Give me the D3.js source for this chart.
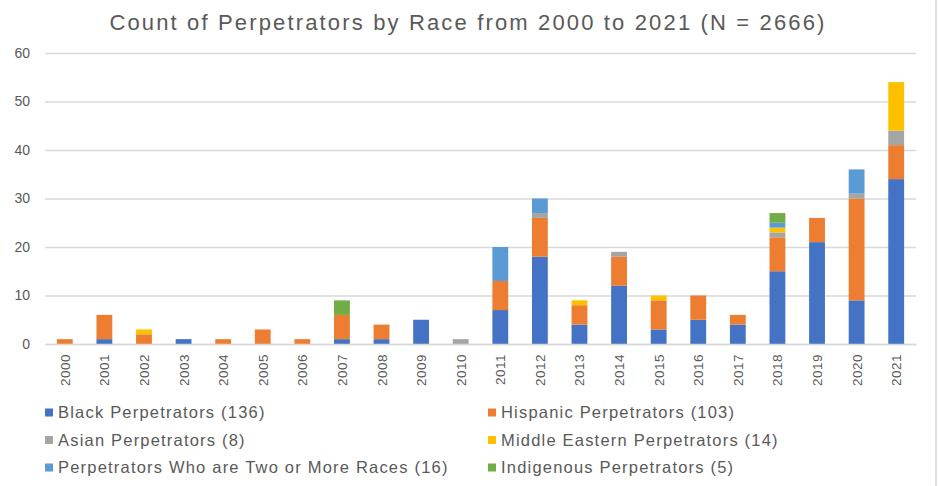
<!DOCTYPE html>
<html>
<head>
<meta charset="utf-8">
<script src="https://cdn.jsdelivr.net/npm/d3@7"></script>
<style>
  body { margin: 0; background: #fff; }
  text { font-family: "Liberation Sans", Arial, sans-serif; fill: #595959; }
</style>
</head>
<body>
<div class="chart"></div>
<script>
var years = ['2000','2001','2002','2003','2004','2005','2006','2007','2008','2009','2010',
             '2011','2012','2013','2014','2015','2016','2017','2018','2019','2020','2021']

// values, one per year
var black      = [0,1,0,1,0,0,0,1,1,5,0, 7,18,4,12,3,5,4,15,21,9,34]
var hispanic   = [1,5,2,0,1,3,1,5,3,0,0, 6,8,4,6,6,5,2,7,5,21,7]
var asian      = [0,0,0,0,0,0,0,0,0,0,1, 0,1,0,1,0,0,0,1,0,1,3]
var midEast    = [0,0,1,0,0,0,0,0,0,0,0, 0,0,1,0,1,0,0,1,0,0,10]
var twoOrMore  = [0,0,0,0,0,0,0,0,0,0,0, 7,3,0,0,0,0,0,1,0,5,0]
var indigenous = [0,0,0,0,0,0,0,3,0,0,0, 0,0,0,0,0,0,0,2,0,0,0]

var seriesNames = ['Black Perpetrators (136)', 'Hispanic Perpetrators (103)',
  'Asian Perpetrators (8)', 'Middle Eastern Perpetrators (14)',
  'Perpetrators Who are Two or More Races (16)', 'Indigenous Perpetrators (5)']
var colors = ['#4472C4', '#ED7D31', '#A5A5A5', '#FFC000', '#5B9BD5', '#70AD47']
var yTicks = [0, 10, 20, 30, 40, 50, 60]

var keys = ['black', 'hispanic', 'asian', 'midEast', 'twoOrMore', 'indigenous']
var table = years.map((y, i) => ({
  year: y, black: black[i], hispanic: hispanic[i], asian: asian[i],
  midEast: midEast[i], twoOrMore: twoOrMore[i], indigenous: indigenous[i]
}))

var W = 938, H = 486
var margin = { top: 53, right: 22, bottom: 142, left: 45 }
var width = W - margin.left - margin.right
var height = H - margin.top - margin.bottom

var svg = d3.select('.chart')
  .append('svg')
    .attr('width', W)
    .attr('height', H)

// frame edge on the right
svg.append('line')
  .attr('x1', 936).attr('x2', 936)
  .attr('y1', 0).attr('y2', H)
  .attr('stroke', '#d9d9d9')
  .attr('stroke-width', 1.5)

svg.append('text')
  .attr('x', 468)
  .attr('y', 30)
  .attr('text-anchor', 'middle')
  .style('font-size', '22px')
  .style('letter-spacing', '2.15px')
  .text('Count of Perpetrators by Race from 2000 to 2021 (N = 2666)')

var g = svg.append('g')
  .attr('transform', `translate(${margin.left}, ${margin.top})`)

var xScale = d3.scaleBand()
  .domain(years)
  .range([0, width])
  .paddingInner(0.6)
  .paddingOuter(0.3)

var yScale = d3.scaleLinear()
  .domain([0, 60])
  .range([height, 0])

// gridlines
var yAxis = d3.axisLeft(yScale)
  .tickValues(yTicks)
  .tickSize(-width)
  .tickPadding(15)

g.append('g')
  .call(yAxis)
  .call(s => s.select('.domain').remove())
  .call(s => s.selectAll('.tick line').attr('stroke', '#d9d9d9').attr('stroke-width', 1.3))
  .call(s => s.selectAll('.tick text').style('font-size', '14px').attr('fill', '#595959'))

var stacked = d3.stack().keys(keys)(table)

g.append('g')
  .selectAll('g')
  .data(stacked)
  .join('g')
    .attr('fill', (d, i) => colors[i])
  .selectAll('rect')
  .data(d => d.filter(p => p[1] > p[0]))
  .join('rect')
    .attr('x', d => xScale(d.data.year))
    .attr('y', d => yScale(d[1]))
    .attr('width', xScale.bandwidth())
    .attr('height', d => yScale(d[0]) - yScale(d[1]))

var xAxis = d3.axisBottom(xScale)
  .tickSize(0)
  .tickPadding(0)

g.append('g')
  .attr('transform', `translate(0, ${height})`)
  .call(xAxis)
  .call(s => s.select('.domain').attr('stroke', '#d9d9d9').attr('stroke-width', 1.3))
  .call(s => s.selectAll('.tick text')
    .style('font-size', '13.5px')
    .style('letter-spacing', '0.5px')
    .attr('fill', '#595959')
    .attr('text-anchor', 'end')
    .attr('dy', null)
    .attr('transform', 'translate(5, 10) rotate(-90)'))

// legend, two columns
var legend = svg.append('g')
  .selectAll('g')
  .data(seriesNames)
  .join('g')
    .attr('transform', (d, i) => `translate(${i % 2 ? 488 : 45}, ${412.5 + Math.floor(i / 2) * 27.5})`)

legend.append('rect')
  .attr('y', -4)
  .attr('width', 8)
  .attr('height', 8)
  .attr('fill', (d, i) => colors[i])

legend.append('text')
  .attr('x', 13)
  .attr('dy', '0.35em')
  .style('font-size', '16.5px')
  .style('letter-spacing', '1.2px')
  .text(d => d)
</script>
</body>
</html>
